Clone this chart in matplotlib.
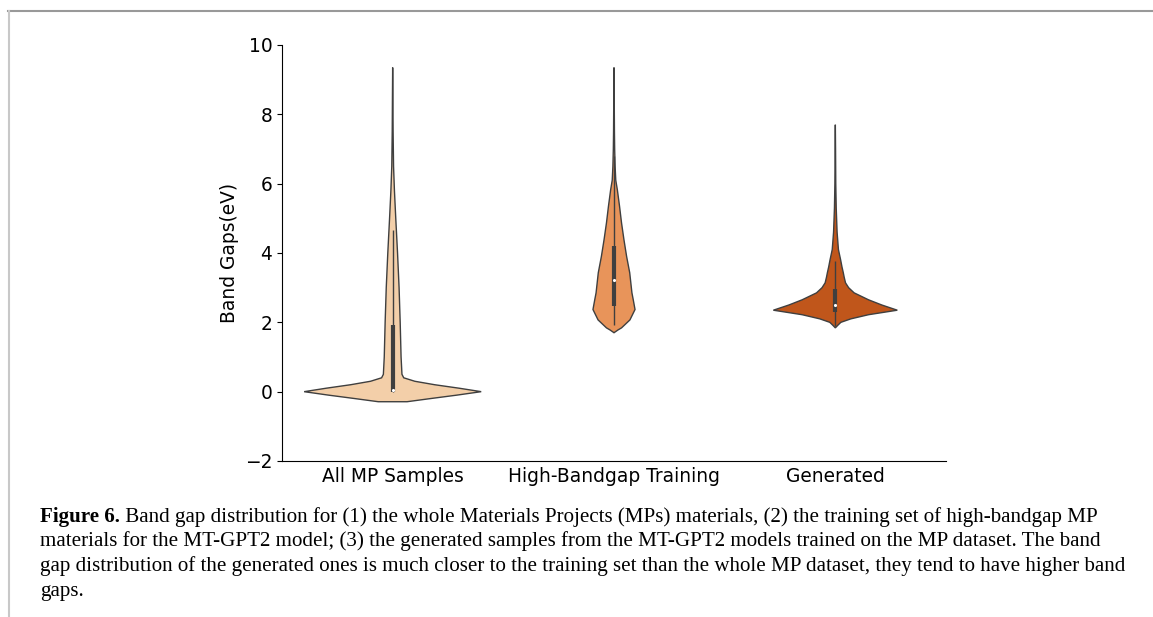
import matplotlib
matplotlib.use("Agg")
import matplotlib.pyplot as plt
import numpy as np

# categories and violin colours
categories = ['All MP Samples', 'High-Bandgap Training', 'Generated']
colors = ['#f3cfa9', '#e8945a', '#c0561b']

# density outlines: band gap value -> half width
mp_vals = [-0.29, -0.2, -0.1, 0.0, 0.1, 0.2, 0.3, 0.4, 0.5, 1.0, 2.0, 3.0, 4.0, 5.0, 5.8, 6.5, 7.5, 8.5, 9.35]
mp_half = [0.065, 0.17, 0.29, 0.40, 0.30, 0.19, 0.10, 0.05, 0.042, 0.038, 0.034, 0.029, 0.022, 0.014, 0.008, 0.004, 0.002, 0.001, 0.0]

hb_vals = [1.70, 1.78, 1.84, 2.07, 2.37, 2.65, 2.85, 3.43, 3.9, 4.38, 4.87, 5.35, 5.83, 6.1, 6.5, 7.0, 7.5, 8.5, 9.35]
hb_half = [0.0, 0.018, 0.034, 0.072, 0.095, 0.087, 0.081, 0.071, 0.057, 0.045, 0.034, 0.025, 0.015, 0.008, 0.005, 0.003, 0.002, 0.001, 0.0]

gen_vals = [1.84, 1.92, 2.0, 2.1, 2.22, 2.35, 2.5, 2.65, 2.85, 3.0, 3.14, 3.3, 3.43, 3.6, 3.8, 4.1, 4.6, 5.3, 6.0, 7.0, 7.7]
gen_half = [0.0, 0.012, 0.025, 0.07, 0.15, 0.28, 0.21, 0.15, 0.085, 0.06, 0.046, 0.04, 0.036, 0.03, 0.024, 0.014, 0.008, 0.004, 0.002, 0.001, 0.0]

# box stats: q1, median, q3, lower whisker, upper whisker
q1 = [0.0, 2.46, 2.29]
medians = [0.04, 3.21, 2.49]
q3 = [1.93, 4.19, 2.97]
whisk_lo = [0.0, 1.93, 1.88]
whisk_hi = [4.67, 6.8, 3.78]

caption_lines = [
    ('Figure 6.', ' Band gap distribution for (1) the whole Materials Projects (MPs) materials, (2) the training set of high-bandgap MP'),
    ('', 'materials for the MT-GPT2 model; (3) the generated samples from the MT-GPT2 models trained on the MP dataset. The band'),
    ('', 'gap distribution of the generated ones is much closer to the training set than the whole MP dataset, they tend to have higher band'),
    ('', 'gaps.'),
]

fig = plt.figure(figsize=(11.53, 6.17), dpi=100)
ax = fig.add_axes([282 / 1153, 1 - 461 / 617, 664 / 1153, 416 / 617])

profiles = [(mp_vals, mp_half), (hb_vals, hb_half), (gen_vals, gen_half)]
for i, (vals, half) in enumerate(profiles):
    v = np.array(vals)
    h = np.array(half)
    xs = np.concatenate([i + h, (i - h)[::-1]])
    ys = np.concatenate([v, v[::-1]])
    ax.fill(xs, ys, facecolor=colors[i], edgecolor='#3f3f3f', linewidth=1.0, zorder=2)
    # whiskers and box
    ax.vlines(i, whisk_lo[i], whisk_hi[i], color='#3f3f3f', linewidth=1.0, zorder=3)
    ax.vlines(i, q1[i], q3[i], color='#3f3f3f', linewidth=3.0, zorder=3)
    ax.scatter([i], [medians[i]], s=5, color='white', zorder=4, linewidths=0)

ax.set_xlim(-0.5, 2.5)
ax.set_ylim(-2, 10)
ax.set_xticks(range(len(categories)))
ax.set_xticklabels(categories)
ax.set_yticks([-2, 0, 2, 4, 6, 8, 10])
ax.tick_params(labelsize=13.4)
ax.tick_params(axis='x', length=0, pad=4)
ax.set_ylabel('Band Gaps(eV)', fontsize=13.4)
ax.spines['top'].set_visible(False)
ax.spines['right'].set_visible(False)

# page frame lines
fig.add_artist(plt.Line2D([8 / 1153, 1], [1 - 11 / 617, 1 - 11 / 617], color='#999999', linewidth=1.5))
fig.add_artist(plt.Line2D([8.5 / 1153, 8.5 / 1153], [0, 1 - 11 / 617], color='#c8c8c8', linewidth=1.5))

# caption
fig.canvas.draw()
renderer = fig.canvas.get_renderer()
baselines = [522, 546, 571, 596]
for (bold, rest), yb in zip(caption_lines, baselines):
    x0 = 40 / 1153
    y0 = 1 - yb / 617
    if bold:
        t = fig.text(x0, y0, bold, fontsize=15.1, family='Liberation Serif', fontweight='bold', va='baseline')
        bb = t.get_window_extent(renderer)
        x0 = bb.x1 / fig.bbox.width
    fig.text(x0, y0, rest, fontsize=15.1, family='Liberation Serif', va='baseline')

fig.savefig('out.png', dpi=100)
